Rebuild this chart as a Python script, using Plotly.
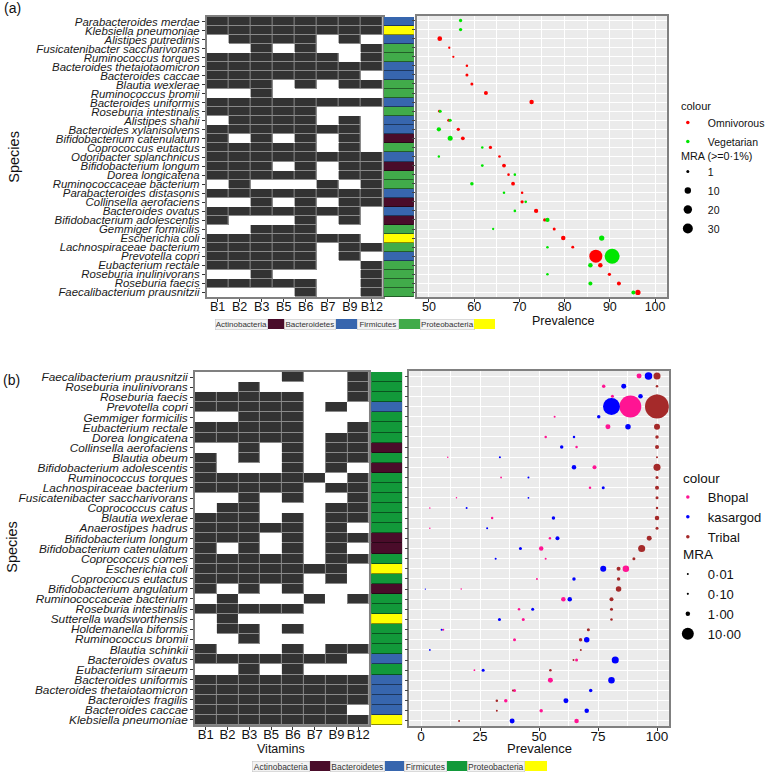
import math
import plotly.graph_objects as go

# ---------------- data ----------------
vitamins = ["B1", "B2", "B3", "B5", "B6", "B7", "B9", "B12"]
phyla = ["Actinobacteria", "Bacteroidetes", "Firmicutes", "Proteobacteria"]

# Panel (a)
species_a = ["Parabacteroides merdae", "Klebsiella pneumoniae", "Alistipes putredinis",
             "Fusicatenibacter saccharivorans", "Ruminococcus torques", "Bacteroides thetaiotaomicron",
             "Bacteroides caccae", "Blautia wexlerae", "Ruminococcus bromii", "Bacteroides uniformis",
             "Roseburia intestinalis", "Alistipes shahii", "Bacteroides xylanisolvens",
             "Bifidobacterium catenulatum", "Coprococcus eutactus", "Odoribacter splanchnicus",
             "Bifidobacterium longum", "Dorea longicatena", "Ruminococcaceae bacterium",
             "Parabacteroides distasonis", "Collinsella aerofaciens", "Bacteroides ovatus",
             "Bifidobacterium adolescentis", "Gemmiger formicilis", "Escherichia coli",
             "Lachnospiraceae bacterium", "Prevotella copri", "Eubacterium rectale",
             "Roseburia inulinivorans", "Roseburia faecis", "Faecalibacterium prausnitzii"]
presence_a = [
    [1, 1, 1, 1, 1, 1, 1, 1], [1, 1, 1, 1, 1, 1, 1, 1], [0, 1, 1, 1, 1, 0, 1, 0],
    [0, 0, 1, 0, 1, 0, 0, 1], [1, 1, 1, 1, 1, 1, 0, 1], [1, 1, 1, 1, 1, 1, 1, 1],
    [1, 1, 1, 1, 1, 1, 1, 0], [1, 1, 1, 0, 1, 0, 1, 1], [0, 0, 1, 0, 0, 0, 0, 0],
    [1, 1, 1, 1, 1, 1, 1, 1], [1, 1, 1, 1, 1, 0, 0, 0], [0, 1, 1, 1, 1, 0, 1, 0],
    [1, 1, 1, 1, 1, 1, 1, 0], [1, 0, 1, 0, 1, 0, 1, 0], [1, 1, 1, 1, 1, 0, 1, 0],
    [1, 1, 1, 1, 1, 1, 1, 1], [1, 1, 1, 0, 1, 0, 1, 1], [1, 1, 1, 1, 1, 0, 1, 1],
    [0, 1, 0, 0, 0, 1, 0, 1], [1, 1, 1, 1, 1, 1, 1, 1], [0, 0, 1, 0, 1, 0, 1, 1],
    [1, 1, 1, 1, 1, 1, 1, 0], [1, 0, 0, 0, 1, 0, 1, 0], [0, 0, 1, 1, 1, 0, 0, 0],
    [1, 1, 1, 1, 1, 1, 1, 0], [1, 1, 1, 1, 1, 0, 1, 1], [1, 1, 1, 1, 1, 0, 1, 0],
    [1, 1, 1, 1, 1, 0, 0, 1], [0, 0, 1, 0, 0, 0, 0, 1], [1, 1, 1, 1, 1, 0, 0, 1],
    [0, 0, 0, 0, 1, 0, 0, 1]]
phylum_a = ["Bacteroidetes", "Proteobacteria", "Bacteroidetes", "Firmicutes", "Firmicutes",
            "Bacteroidetes", "Bacteroidetes", "Firmicutes", "Firmicutes", "Bacteroidetes",
            "Firmicutes", "Bacteroidetes", "Bacteroidetes", "Actinobacteria", "Firmicutes",
            "Bacteroidetes", "Actinobacteria", "Firmicutes", "Firmicutes", "Bacteroidetes",
            "Actinobacteria", "Bacteroidetes", "Actinobacteria", "Firmicutes", "Proteobacteria",
            "Firmicutes", "Bacteroidetes", "Firmicutes", "Firmicutes", "Firmicutes", "Firmicutes"]
prev_omni = [None, None, 52.4, 54.5, 55.4, 58.4, 58.4, 59.5, 62.6, 72.7, 52.3, 54.4, 56.5, 57.5,
             63.6, 65.6, 66.6, 67.6, 68.6, 70.6, 70.6, 73.7, 75.6, 77.7, 79.7, 81.8, 86.9, 87.9,
             89.9, 92.0, 96.2]
mra_omni = [None, None, 4.4, 0.3, 0.3, 0.5, 1.0, 1.0, 2.7, 3.8, 0.6, 1.2, 1.4, 2.3, 1.4, 0.6,
            2.3, 0.5, 2.3, 0.5, 1.4, 3.4, 1.4, 1.0, 3.8, 0.9, 55, 3.8, 1.4, 2.7, 6.1]
prev_veg = [57.0, 57.0, None, None, None, None, None, None, None, None, 52.5, 54.7, 52.2, 54.7,
            61.8, 52.2, 61.8, 69.0, 59.5, 66.6, 71.4, 69.0, 76.2, 64.2, 88.2, 76.2, 90.5, 85.7,
            76.2, 85.7, 95.2]
mra_veg = [1.5, 1.5, None, None, None, None, None, None, None, None, 1.0, 1.2, 3.3, 5.2, 0.5,
           0.4, 0.8, 0.5, 1.7, 0.5, 0.6, 0.6, 3.4, 0.3, 6.1, 0.5, 75, 3.8, 0.5, 2.7, 2.7]
mra_legend_a = [1, 10, 20, 30]
mra_labels_a = ["1", "10", "20", "30"]

# Panel (b)
species_b = ["Faecalibacterium prausnitzii", "Roseburia inulinivorans", "Roseburia faecis",
             "Prevotella copri", "Gemmiger formicilis", "Eubacterium rectale", "Dorea longicatena",
             "Collinsella aerofaciens", "Blautia obeum", "Bifidobacterium adolescentis",
             "Ruminococcus torques", "Lachnospiraceae bacterium", "Fusicatenibacter saccharivorans",
             "Coprococcus catus", "Blautia wexlerae", "Anaerostipes hadrus", "Bifidobacterium longum",
             "Bifidobacterium catenulatum", "Coprococcus comes", "Escherichia coli",
             "Coprococcus eutactus", "Bifidobacterium angulatum", "Ruminococcaceae bacterium",
             "Roseburia intestinalis", "Sutterella wadsworthensis", "Holdemanella biformis",
             "Ruminococcus bromii", "Blautia schinkii", "Bacteroides ovatus", "Eubacterium siraeum",
             "Bacteroides uniformis", "Bacteroides thetaiotaomicron", "Bacteroides fragilis",
             "Bacteroides caccae", "Klebsiella pneumoniae"]
presence_b = [
    [0, 0, 0, 0, 1, 0, 0, 1], [0, 0, 1, 0, 0, 0, 0, 1], [1, 1, 1, 1, 1, 0, 0, 1],
    [1, 1, 1, 1, 1, 0, 1, 0], [0, 0, 1, 1, 1, 0, 0, 0], [1, 1, 1, 1, 1, 0, 0, 1],
    [1, 1, 1, 1, 1, 0, 1, 1], [0, 0, 1, 0, 1, 0, 1, 1], [1, 0, 1, 0, 1, 0, 1, 1],
    [1, 0, 0, 0, 1, 0, 1, 0], [1, 1, 1, 1, 1, 1, 0, 1], [1, 1, 1, 1, 1, 0, 1, 1],
    [0, 0, 1, 0, 1, 0, 0, 1], [0, 1, 1, 0, 0, 0, 1, 1], [1, 1, 1, 0, 1, 0, 1, 1],
    [1, 1, 1, 1, 1, 0, 1, 0], [1, 1, 1, 0, 1, 0, 1, 1], [1, 0, 1, 0, 1, 0, 1, 0],
    [1, 1, 1, 1, 1, 0, 1, 1], [1, 1, 1, 1, 1, 1, 1, 0], [1, 1, 1, 1, 1, 0, 1, 0],
    [1, 0, 1, 0, 1, 0, 0, 0], [0, 1, 0, 0, 0, 1, 0, 1], [1, 1, 1, 1, 1, 0, 0, 0],
    [0, 1, 0, 0, 0, 0, 0, 0], [0, 1, 1, 0, 1, 0, 0, 0], [0, 0, 1, 0, 0, 0, 0, 0],
    [1, 0, 0, 0, 1, 0, 1, 1], [1, 1, 1, 1, 1, 1, 1, 0], [0, 0, 1, 0, 1, 0, 0, 0],
    [1, 1, 1, 1, 1, 1, 1, 1], [1, 1, 1, 1, 1, 1, 1, 1], [1, 1, 1, 1, 1, 1, 1, 1],
    [1, 1, 1, 1, 1, 1, 1, 0], [1, 1, 1, 1, 1, 1, 1, 1]]
phylum_b = ["Firmicutes", "Firmicutes", "Firmicutes", "Bacteroidetes", "Firmicutes", "Firmicutes",
            "Firmicutes", "Actinobacteria", "Firmicutes", "Actinobacteria", "Firmicutes",
            "Firmicutes", "Firmicutes", "Firmicutes", "Firmicutes", "Firmicutes", "Actinobacteria",
            "Actinobacteria", "Firmicutes", "Proteobacteria", "Firmicutes", "Actinobacteria",
            "Firmicutes", "Firmicutes", "Proteobacteria", "Firmicutes", "Firmicutes", "Firmicutes",
            "Bacteroidetes", "Firmicutes", "Bacteroidetes", "Bacteroidetes", "Bacteroidetes",
            "Bacteroidetes", "Proteobacteria"]
prev_bhopal = [92.4, 77.4, 81.1, 88.7, 56.6, 79.2, 52.8, 65.9, 11.3, 73.5, 33.9, 71.6, 15.0, 3.7,
               30.1, 3.7, 54.6, 50.9, 52.8, 86.8, 49.1, 17.0, 60.3, 41.5, 43.3, 9.4, 39.6, None,
               65.9, 22.6, 54.8, 39.6, 35.9, 50.9, 65.9]
mra_bhopal = [1.3, 0.5, 0.32, 36, 0.08, 1.3, 0.18, 0.18, 0.02, 0.73, 0.05, 0.18, 0.02, 0.02, 0.18,
              0.02, 0.18, 1.0, 0.08, 2.5, 0.08, 0.02, 1.0, 0.18, 0.32, 0.08, 0.32, None, 0.32,
              0.05, 1.3, 0.32, 0.5, 0.5, 1.0]
prev_kasargod = [96.4, 85.9, 93.0, 80.7, 75.3, 87.7, 64.8, 59.6, 33.4, 64.8, 45.5, 77.2, 45.5,
                 19.3, 56.1, 28.0, 57.8, 42.1, 31.6, 77.2, 64.8, 1.8, 63.0, 47.3, 33.2, 8.7, 70.2,
                 3.7, 82.3, 26.3, 80.7, 71.9, 61.4, 70.2, 38.6]
mra_kasargod = [3.5, 1.3, 1.0, 21, 0.5, 1.66, 0.18, 0.5, 0.08, 1.0, 0.08, 0.32, 0.05, 0.08, 0.5,
                0.08, 0.73, 0.32, 0.08, 2.05, 0.5, 0.01, 1.0, 0.32, 0.32, 0.08, 1.66, 0.05, 3.0,
                0.32, 2.5, 0.5, 1.3, 1.0, 1.3]
prev_tribal = [100, 100, 100, 100, 100, 100, 100, 100, 100, 100, 100, 100, 100, 100, 100, 100,
               96.7, 93.5, 90.2, 83.7, 83.7, 83.7, 80.7, 80.7, 80.7, 70.9, 67.6, 67.7, 64.6, 54.8,
               None, 38.9, 32.1, 32.1, 16.1]
mra_tribal = [3.0, 0.18, 0.7, 44, 0.3, 2.05, 0.5, 0.73, 0.08, 3.0, 0.32, 0.73, 0.32, 0.18, 1.0,
              0.32, 1.3, 3.0, 0.32, 0.73, 0.5, 1.66, 0.73, 0.32, 0.18, 0.32, 0.5, 0.08, 0.08, 0.18,
              None, 0.08, 0.18, 0.08, 0.08]
mra_legend_b = [0.01, 0.1, 1, 10]
mra_labels_b = ["0·01", "0·10", "1·00", "10·00"]

# ---------------- styling ----------------
W, H = 770, 773
FONT = "Liberation Sans, Arial, sans-serif"
phylum_colors_a = ["#4a0c2a", "#3766ae", "#41ab4a", "#ffff00"]
phylum_colors_b = ["#4a0c2a", "#3766ae", "#12993a", "#ffff00"]


def dx(p):
    return p / W


def dy(p):
    return 1 - p / H


def size_a(v):  # ggplot-like sqrt size scale, panel (a)
    return 1.44 + 1.56 * math.sqrt(v)


def size_b(v):  # panel (b)
    return 1.03 + 3.47 * math.sqrt(v)


def darker(hexcol, f=0.75):
    r, g, b = int(hexcol[1:3], 16), int(hexcol[3:5], 16), int(hexcol[5:7], 16)
    return "rgb(%d,%d,%d)" % (r * f, g * f, b * f)


def discrete_scale(cols):
    n = len(cols)
    cs = []
    for i, c in enumerate(cols):
        lo = max(0, (i - 0.5) / (n - 1))
        hi = min(1, (i + 0.5) / (n - 1))
        cs += [[lo, c], [hi, c]]
    return cs


fig = go.Figure()


def add_heat(species, presence, phylum, xa, ya, xp, yp, pcols):
    fig.add_trace(go.Heatmap(x=vitamins, y=species, z=presence, zmin=0, zmax=1,
                             colorscale=[[0, "#ffffff"], [1, "#8a8a8a"]], showscale=False,
                             hoverinfo="skip", xaxis=xa, yaxis=ya))
    dark = [[1 if v else None for v in row] for row in presence]
    fig.add_trace(go.Heatmap(x=vitamins, y=species, z=dark, zmin=0, zmax=1,
                             colorscale=[[0, "#333333"], [1, "#333333"]], showscale=False,
                             xgap=1, ygap=1, hoverinfo="skip", xaxis=xa, yaxis=ya))
    codes = [[phyla.index(p)] for p in phylum]
    fig.add_trace(go.Heatmap(x=["phylum"], y=species, z=codes, zmin=0, zmax=3,
                             colorscale=discrete_scale([darker(c, 0.55) for c in pcols]),
                             showscale=False, hoverinfo="skip", xaxis=xp, yaxis=yp))
    fig.add_trace(go.Heatmap(x=["phylum"], y=species, z=codes, zmin=0, zmax=3,
                             colorscale=discrete_scale(pcols), ygap=1,
                             showscale=False, hoverinfo="skip", xaxis=xp, yaxis=yp))


def add_dots(species, prev, mra, color, sizefn, xa, ya):
    xs, ys, ss = [], [], []
    for s, p, m in zip(species, prev, mra):
        if p is None:
            continue
        xs.append(p)
        ys.append(s)
        ss.append(sizefn(m))
    fig.add_trace(go.Scatter(x=xs, y=ys, mode="markers", showlegend=False, hoverinfo="skip",
                             marker=dict(color=color, size=ss, line=dict(width=0), opacity=1),
                             xaxis=xa, yaxis=ya))


def add_legend_item(name, color, size, legend, xa, ya):
    fig.add_trace(go.Scatter(x=[None], y=[None], mode="markers", name=name, legend=legend,
                             marker=dict(color=color, size=size, line=dict(width=0)),
                             xaxis=xa, yaxis=ya, hoverinfo="skip"))


# Panel (a)
add_heat(species_a, presence_a, phylum_a, "x", "y", "x2", "y2", phylum_colors_a)
add_dots(species_a, prev_omni, mra_omni, "#ff0000", size_a, "x3", "y3")
add_dots(species_a, prev_veg, mra_veg, "#00e600", size_a, "x3", "y3")
add_legend_item("Omnivorous", "#ff0000", 3.5, "legend", "x3", "y3")
add_legend_item("Vegetarian", "#00e600", 3.5, "legend", "x3", "y3")
for v, lab in zip(mra_legend_a, mra_labels_a):
    add_legend_item(lab, "#000000", size_a(v), "legend2", "x3", "y3")

# Panel (b)
add_heat(species_b, presence_b, phylum_b, "x4", "y4", "x5", "y5", phylum_colors_b)
add_dots(species_b, prev_bhopal, mra_bhopal, "#ff1493", size_b, "x6", "y6")
add_dots(species_b, prev_kasargod, mra_kasargod, "#0000ff", size_b, "x6", "y6")
add_dots(species_b, prev_tribal, mra_tribal, "#a52a2a", size_b, "x6", "y6")
add_legend_item("Bhopal", "#ff1493", 3.5, "legend3", "x6", "y6")
add_legend_item("kasargod", "#0000ff", 3.5, "legend3", "x6", "y6")
add_legend_item("Tribal", "#a52a2a", 3.5, "legend3", "x6", "y6")
for v, lab in zip(mra_legend_b, mra_labels_b):
    add_legend_item(lab, "#000000", size_b(v), "legend4", "x6", "y6")

# ---------------- axes ----------------
FRAME = "#808080"


def heat_x(dom, fs):
    return dict(domain=dom, type="category", categoryorder="array", categoryarray=vitamins,
                showgrid=False, zeroline=False, showline=True, mirror=True, linecolor=FRAME,
                linewidth=1.5, ticks="outside", ticklen=3, tickcolor="#333",
                ticklabelstandoff=-6,
                tickfont=dict(family=FONT, size=fs, color="#111"))


def heat_y(dom, species, fs):
    n = len(species)
    return dict(domain=dom, type="category", categoryorder="array", categoryarray=species,
                tickmode="array", tickvals=species, ticktext=species,
                range=[n - 0.5, -0.5], showgrid=False, zeroline=False, showline=True,
                mirror=True, linecolor=FRAME, linewidth=1.5, ticks="outside", ticklen=3,
                tickcolor="#333", tickfont=dict(family=FONT, size=fs, color="#1a1a1a",
                                                style="italic"))


def phy_x(dom, anchor):
    return dict(domain=dom, anchor=anchor, showgrid=False, zeroline=False, showticklabels=False,
                ticks="", showline=False)


def phy_y(dom, species, anchor):
    n = len(species)
    return dict(domain=dom, anchor=anchor, type="category", categoryorder="array",
                categoryarray=species, range=[n - 0.5, -0.5], showgrid=False, zeroline=False,
                showticklabels=False, ticks="")


def dot_x(dom, anchor, rng, dtick, fs):
    return dict(domain=dom, anchor=anchor, range=rng, tick0=0, dtick=dtick, showgrid=True,
                gridcolor="#ffffff", gridwidth=1.1, zeroline=False, showline=True, mirror=True,
                linecolor=FRAME, linewidth=1.5, ticks="outside", ticklen=3, tickcolor="#333",
                ticklabelstandoff=-6,
                tickfont=dict(family=FONT, size=fs, color="#111"),
                minor=dict(dtick=dtick / 2, showgrid=True, gridcolor="#ffffff", gridwidth=0.5))


def dot_y(dom, species, anchor):
    n = len(species)
    return dict(domain=dom, anchor=anchor, type="category", categoryorder="array",
                categoryarray=species, tickmode="array", tickvals=species,
                range=[n - 0.5, -0.5], showgrid=True, gridcolor="#ffffff",
                gridwidth=1.1, zeroline=False, showline=True, mirror=True, linecolor=FRAME,
                linewidth=1.5, ticks="outside", ticklen=3, tickcolor="#444",
                showticklabels=False)


ya_dom = [dy(297), dy(17)]
yb_dom = [dy(725), dy(372)]

fig.update_layout(
    xaxis=dict(heat_x([dx(211), dx(391)], 12.5), anchor="y"),
    yaxis=dict(heat_y(ya_dom, species_a, 11.4), anchor="x"),
    xaxis2=phy_x([dx(392), dx(423)], "y2"),
    yaxis2=phy_y(ya_dom, species_a, "x2"),
    xaxis3=dot_x([dx(426), dx(681)], "y3", [47.4, 102.6], 10, 12.5),
    yaxis3=dot_y([dy(297), dy(16)], species_a, "x3"),
    xaxis4=dict(heat_x([dx(199), dx(377)], 13), anchor="y4"),
    yaxis4=dict(heat_y(yb_dom, species_b, 11.8), anchor="x4"),
    xaxis5=phy_x([dx(379), dx(411)], "y5"),
    yaxis5=phy_y(yb_dom, species_b, "x5"),
    xaxis6=dot_x([dx(418), dx(683)], "y6", [-5, 105], 25, 13.5),
    yaxis6=dot_y([dy(726), dy(371)], species_b, "x6"),
)


# ---------------- legends (titles drawn as annotations) ----------------
def leg(x, y, fs):
    return dict(x=dx(x), y=dy(y), xanchor="left", yanchor="top", bgcolor="rgba(0,0,0,0)",
                borderwidth=0, itemsizing="trace", tracegroupgap=0, itemclick=False,
                itemdoubleclick=False, font=dict(family=FONT, size=fs, color="#111"))


fig.update_layout(
    legend=leg(682, 108, 10.5),
    legend2=leg(682, 157, 10.5),
    legend3=leg(682, 482, 13),
    legend4=leg(682, 559, 13),
)

# ---------------- text annotations ----------------
ann = []


def text(t, x, y, fs, angle=0, xanchor="center"):
    ann.append(dict(text=t, x=dx(x), y=dy(y), xref="paper", yref="paper", showarrow=False,
                    xanchor=xanchor, yanchor="middle", textangle=angle,
                    font=dict(family=FONT, size=fs, color="#111")))


text("(a)", 2, 8, 14, xanchor="left")
text("(b)", 1, 380, 14, xanchor="left")
text("Species", 14, 157, 14.5, angle=-90)
text("Species", 12, 547, 14.5, angle=-90)
text("Prevalence", 575, 321, 12.5)
text("Prevalence", 551, 748, 13)
text("Vitamins", 287, 749, 12.5)
text("colour", 693, 106, 11, xanchor="left")
text("MRA (>=0·1%)", 693, 156, 10.8, xanchor="left")
text("colour", 695, 478, 13.5, xanchor="left")
text("MRA", 695, 554, 13.5, xanchor="left")


def phylum_key(x0, yc, lab_w, col_w, fs, cols):
    x = x0
    for name, lw, cw, c in zip(phyla, lab_w, col_w, cols):
        ann.append(dict(text=name, x=dx(x + lw / 2), y=dy(yc), xref="paper", yref="paper",
                        showarrow=False, xanchor="center", yanchor="middle", width=lw - 1.5,
                        height=10, bgcolor="#f3f3f3", bordercolor="#c8c8c8", borderwidth=0.6,
                        borderpad=0, font=dict(family=FONT, size=fs, color="#333")))
        x += lw
        ann.append(dict(text=" ", x=dx(x + cw / 2), y=dy(yc), xref="paper", yref="paper",
                        showarrow=False, xanchor="center", yanchor="middle", width=cw - 1,
                        height=10, bgcolor=c, borderwidth=0, borderpad=0,
                        font=dict(family=FONT, size=fs)))
        x += cw


phylum_key(220, 324, [53, 52, 42, 55], [18, 22, 22, 22], 8, phylum_colors_a)
phylum_key(258, 766, [58, 55, 43, 58], [22, 20, 22, 23], 8.5, phylum_colors_b)

fig.update_layout(
    annotations=ann,
    width=W, height=H,
    margin=dict(l=0, r=0, t=0, b=0),
    paper_bgcolor="#ffffff",
    plot_bgcolor="#ebebeb",
    template="none",
    font=dict(family=FONT, color="#111"),
    showlegend=True,
)

fig.write_html("out.html", config={"displayModeBar": False},
               post_script="document.body.style.margin='0px';")
